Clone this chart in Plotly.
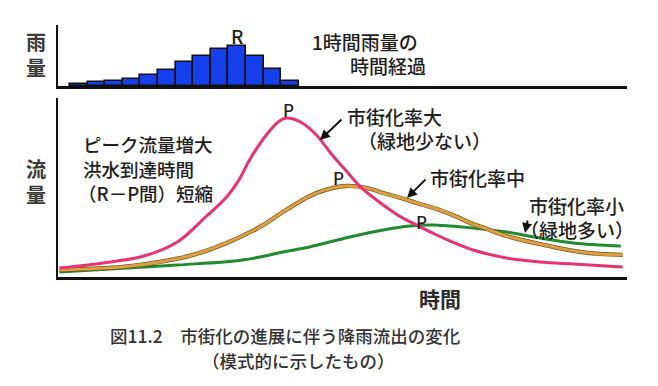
import plotly.graph_objects as go

# ---------------- data ----------------
rain_hours = list(range(1, 14))
rain_mm = [0.8, 2.0, 2.5, 3.8, 5.8, 8.3, 12.2, 15.0, 18.6, 20.3, 15.0, 8.7, 2.5]

t_high = [-0.1, 2.8, 4.7, 6.6, 8.2, 9.4, 10.1, 10.7, 11.7, 12.4, 12.8, 13.6, 14.5, 15.4,
          16.4, 17.0, 18.3, 19.3, 20.2, 21.1, 22.1, 23.4, 25.3, 27.2, 29.1, 31.9]
q_high = [5.6, 9.4, 13.1, 21.9, 37.5, 50.0, 60.6, 73.1, 89.4, 97.5, 99.4, 96.9, 88.8, 76.3,
          63.8, 56.3, 45.0, 37.5, 32.5, 27.5, 22.5, 16.9, 11.9, 9.4, 8.1, 6.3]

t_mid = [-0.1, 3.5, 5.6, 7.5, 9.4, 11.3, 12.6, 13.6, 14.5, 15.4, 16.2, 17.4, 18.3, 19.3,
         20.2, 21.5, 22.5, 23.4, 24.2, 25.3, 27.2, 29.1, 30.6, 31.9]
q_mid = [4.4, 6.3, 9.4, 13.8, 21.3, 31.3, 40.6, 47.5, 52.5, 55.6, 56.9, 55.6, 52.5, 49.4,
         46.3, 41.9, 37.5, 33.1, 30.0, 25.6, 20.6, 16.3, 14.4, 13.8]

t_low = [-0.1, 2.8, 6.6, 10.3, 12.6, 14.1, 16.4, 18.3, 19.8, 21.1, 22.1, 23.4, 24.4,
         25.3, 27.2, 29.1, 31.8]
q_low = [3.1, 5.0, 7.5, 10.6, 15.6, 18.8, 25.0, 29.4, 31.9, 32.5, 31.9, 30.6, 29.4,
         28.1, 24.4, 21.3, 19.4]

# ---------------- styling ----------------
# the page body has an 8px margin, so the figure is drawn 8px in from the corner
OFF = 8
W, H = 650, 378
FONT = "Noto Sans CJK JP"
TXT = "#1e1e1e"
PINK = "#e8336f"
ORANGE = "#dea142"
ORANGE_EDGE = "#7a5522"
GREEN = "#1f8a2e"


def px(x):
    return (x - OFF) / W


def py(y):
    return 1 - (y - OFF) / H


fig = go.Figure()

fig.add_trace(go.Bar(
    x=rain_hours, y=rain_mm, width=1.0,
    marker=dict(color="#1640ec", line=dict(color="#111111", width=1.6)),
    xaxis="x2", yaxis="y2", showlegend=False, hoverinfo="skip"))

SM = 1.0
fig.add_trace(go.Scatter(x=t_low, y=q_low, mode="lines",
                         line=dict(color=GREEN, width=3, shape="spline", smoothing=SM),
                         showlegend=False, hoverinfo="skip"))
fig.add_trace(go.Scatter(x=t_mid, y=q_mid, mode="lines",
                         line=dict(color=ORANGE_EDGE, width=4.3, shape="spline", smoothing=SM),
                         showlegend=False, hoverinfo="skip"))
fig.add_trace(go.Scatter(x=t_mid, y=q_mid, mode="lines",
                         line=dict(color=ORANGE, width=2.9, shape="spline", smoothing=SM),
                         showlegend=False, hoverinfo="skip"))
fig.add_trace(go.Scatter(x=t_high, y=q_high, mode="lines",
                         line=dict(color=PINK, width=3, shape="spline", smoothing=SM),
                         showlegend=False, hoverinfo="skip"))

x_range = [-0.18, 32.15]
x_dom = [px(58), px(627)]

fig.update_layout(
    width=W, height=H,
    margin=dict(l=0, r=0, t=0, b=0),
    paper_bgcolor="white", plot_bgcolor="white",
    bargap=0,
    xaxis=dict(domain=x_dom, range=x_range, showline=True, linecolor="#111111",
               linewidth=3, showgrid=False, zeroline=False, showticklabels=False,
               ticks="", anchor="y"),
    yaxis=dict(domain=[py(277), py(98)], range=[0, 111.9], showline=True,
               linecolor="#111111", linewidth=2, showgrid=False, zeroline=False,
               showticklabels=False, ticks="", anchor="x"),
    xaxis2=dict(domain=x_dom, range=x_range, showline=True, linecolor="#111111",
                linewidth=2.5, showgrid=False, zeroline=False, showticklabels=False,
                ticks="", anchor="y2"),
    yaxis2=dict(domain=[py(86), py(25)], range=[0, 31], showline=True,
                linecolor="#111111", linewidth=2, showgrid=False, zeroline=False,
                showticklabels=False, ticks="", anchor="x2"),
)

ann = []


def text(s, x, y, size=19, color=TXT, anchor="left", weight=500):
    ann.append(dict(text=s, x=px(x), y=py(y),
                    xref="paper", yref="paper", xanchor=anchor, yanchor="middle",
                    showarrow=False, borderpad=0,
                    font=dict(family=FONT, size=size, color=color, weight=weight)))


# axis captions (vertical, one character per line)
text("雨<br>量", 36, 55, size=20, color="#3a3a3a", anchor="center", weight=700)
text("流<br>量", 36, 181, size=20, color="#3a3a3a", anchor="center", weight=700)
text("時間", 440, 298, size=21, color="#2a2a2a", anchor="center", weight=700)

# top panel note
text("1時間雨量の", 311, 41, size=19)
text("時間経過", 349, 65, size=19)

# left notes
text("ピーク流量増大", 82, 144, size=18.5)
text("洪水到達時間", 82, 169, size=18.5)
text("（R－P間）短縮", 77, 193, size=18.5)

# curve labels
text("市街化率大", 346, 116, size=19)
text("（緑地少ない）", 357, 140, size=19)
text("市街化率中", 429, 177, size=19)
text("市街化率小", 528, 205, size=19)
text("（緑地多い）", 519, 229, size=19)

# caption
text("図11.2　市街化の進展に伴う降雨流出の変化", 109, 335, size=17.5, color="#333333")
text("（模式的に示したもの）", 201, 360, size=17.5, color="#333333")

# arrows
for hx, hy, dx, dy in [(320, 140, 23, -22), (407, 198, 20, -20), (525, 233, 3, -14)]:
    ann.append(dict(text="", x=px(hx), y=py(hy), xref="paper", yref="paper",
                    showarrow=True, ax=dx, ay=dy, arrowhead=2, arrowsize=1,
                    arrowwidth=2, arrowcolor="#111111"))

# R label at tallest bar
i_r = rain_mm.index(max(rain_mm))
ann.append(dict(text="R", x=rain_hours[i_r], y=rain_mm[i_r], xref="x2", yref="y2",
                xanchor="center", yanchor="middle", yshift=11, showarrow=False,
                font=dict(family=FONT, size=19, color=TXT, weight=500)))

# P labels at each peak
for ts, qs, xs, ys in [(t_high, q_high, 2, 9), (t_mid, q_mid, -8, 8), (t_low, q_low, -11, 4)]:
    i = qs.index(max(qs))
    ann.append(dict(text="P", x=ts[i], y=qs[i], xref="x", yref="y",
                    xanchor="center", yanchor="middle", xshift=xs, yshift=ys,
                    showarrow=False, font=dict(family=FONT, size=17, color=TXT, weight=500)))

fig.update_layout(annotations=ann)
fig.write_html("out.html")
